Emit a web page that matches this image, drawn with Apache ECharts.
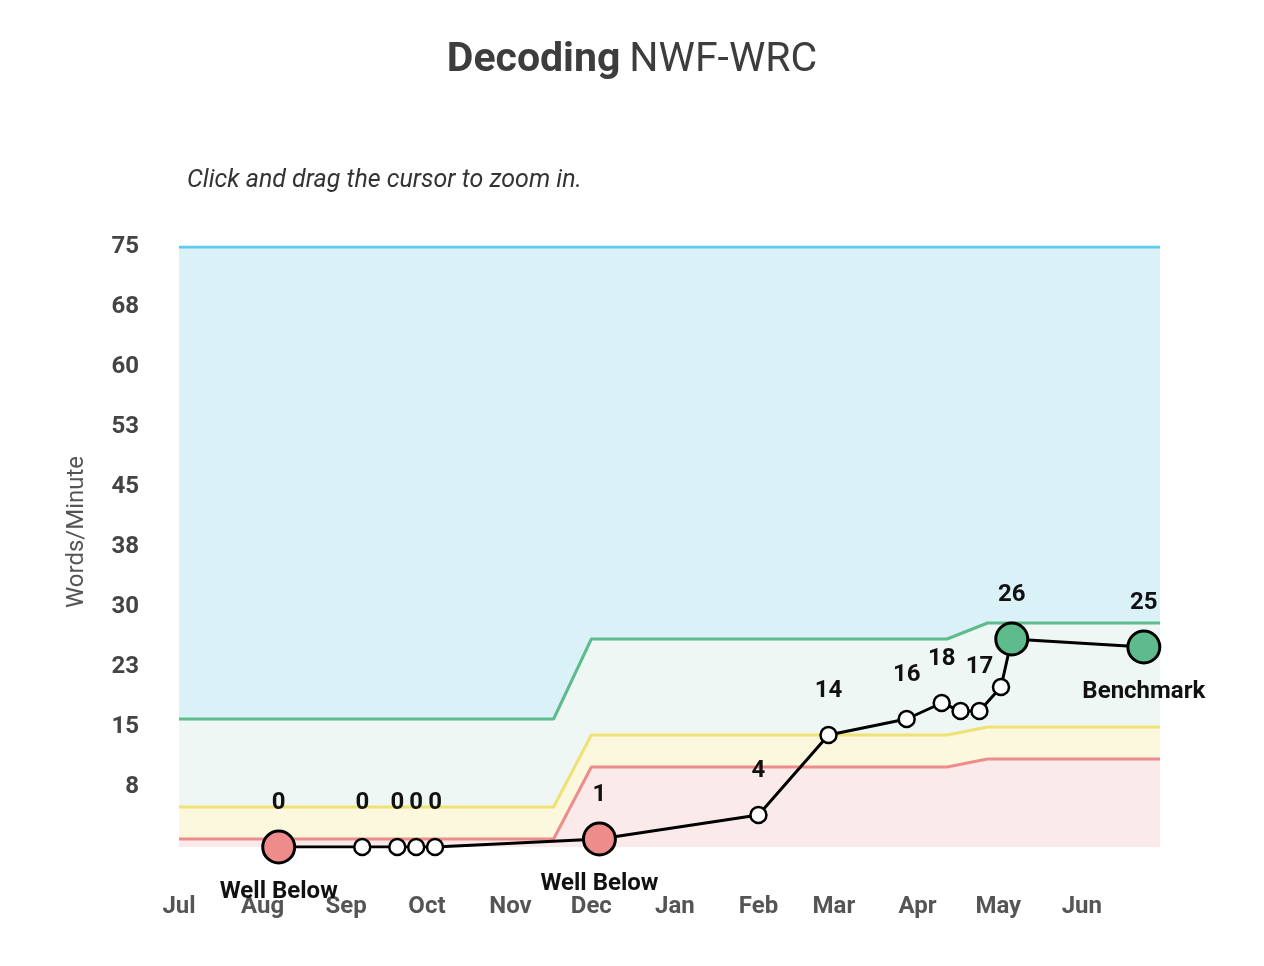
<!DOCTYPE html>
<html>
<head>
<meta charset="utf-8">
<script src="https://cdn.jsdelivr.net/npm/echarts@6/dist/echarts.min.js"></script>
<style>
  html, body { margin: 0; padding: 0; background: #fff; }
  #chart { width: 1264px; height: 966px; }
</style>
</head>
<body>
<div id="chart"></div>
<script>
// school year range
const rangeStart = '2022-07-01'
const rangeEnd = '2023-06-30'
const monthTicks = ['2022-07-01', '2022-08-01', '2022-09-01', '2022-10-01', '2022-11-01', '2022-12-01',
  '2023-01-01', '2023-02-01', '2023-03-01', '2023-04-01', '2023-05-01', '2023-06-01']
const monthNames = ['Jan', 'Feb', 'Mar', 'Apr', 'May', 'Jun', 'Jul', 'Aug', 'Sep', 'Oct', 'Nov', 'Dec']
const yTicks = [7.5, 15, 22.5, 30, 37.5, 45, 52.5, 60, 67.5, 75]

// performance band boundaries
const bandDates = ['2022-07-01', '2022-11-17', '2022-12-01', '2023-04-12', '2023-04-27', '2023-06-30']
const wellBelowTop = [1, 1, 10, 10, 11, 11]
const belowTop = [5, 5, 14, 14, 15, 15]
const benchmarkTop = [16, 16, 26, 26, 28, 28]
const aboveTop = [75, 75, 75, 75, 75, 75]

// student scores
const scoreDates = ['2022-08-07', '2022-09-07', '2022-09-20', '2022-09-27', '2022-10-04', '2022-12-04',
  '2023-02-01', '2023-02-27', '2023-03-28', '2023-04-10', '2023-04-17', '2023-04-24', '2023-05-02',
  '2023-05-06', '2023-06-24']
const scoreValues = [0, 0, 0, 0, 0, 1, 4, 14, 16, 18, 17, 17, 20, 26, 25]
const scoreLabelShown = [1, 1, 1, 1, 1, 1, 1, 1, 1, 1, 0, 1, 0, 1, 1]

// benchmark assessments
const benchDates = ['2022-08-07', '2022-12-04', '2023-05-06', '2023-06-24']
const benchValues = [0, 1, 26, 25]
const benchStatus = ['Well Below', 'Well Below', '', 'Benchmark']

const statusColor = {
  'Well Below': '#ee8c8c',
  'Benchmark': '#5dbb8c',
  '': '#5dbb8c'
}

const toTime = d => +new Date(d + 'T00:00:00')

const band = (values, line, fill, z) => ({
  type: 'line',
  data: bandDates.map((d, i) => [toTime(d), values[i]]),
  symbol: 'none',
  silent: true,
  z: z,
  lineStyle: { color: line, width: 3 },
  areaStyle: { color: fill, opacity: 1 }
})

const chart = echarts.init(document.getElementById('chart'))

const option = {
  animation: false,
  textStyle: { fontFamily: 'Roboto' },
  title: [
    {
      text: '{b|Decoding}  {r|NWF-WRC}',
      left: 'center',
      top: 35,
      textStyle: {
        rich: {
          b: { fontSize: 41, fontWeight: 'bold', color: '#3d3d3d', fontFamily: 'Roboto' },
          r: { fontSize: 41, fontWeight: 'normal', color: '#3d3d3d', fontFamily: 'Roboto' }
        }
      }
    },
    {
      text: 'Click and drag the cursor to zoom in.',
      left: 182,
      top: 163,
      textStyle: { fontSize: 25, fontStyle: 'italic', fontWeight: 'normal', color: '#333', fontFamily: 'Roboto' }
    }
  ],
  graphic: [{
    type: 'text',
    x: 77,
    y: 532,
    rotation: Math.PI / 2,
    style: {
      text: 'Words/Minute',
      fontSize: 24,
      fontFamily: 'Roboto',
      fill: '#555',
      align: 'center',
      verticalAlign: 'middle'
    }
  }],
  grid: { left: 179, right: 104, top: 247, bottom: 119 },
  xAxis: {
    type: 'value',
    min: toTime(rangeStart),
    max: toTime(rangeEnd),
    axisLine: { show: false },
    axisTick: { show: false },
    splitLine: { show: false },
    axisLabel: {
      customValues: monthTicks.map(toTime),
      margin: 48,
      fontSize: 24,
      fontWeight: 'bold',
      color: '#555',
      formatter: v => monthNames[new Date(v).getMonth()]
    }
  },
  yAxis: {
    type: 'value',
    min: 0,
    max: 75,
    axisLine: { show: false },
    axisTick: { show: false },
    splitLine: { show: false },
    axisLabel: {
      customValues: yTicks,
      margin: 40,
      fontSize: 24,
      fontWeight: 'bold',
      color: '#444',
      formatter: v => String(Math.round(v))
    }
  },
  series: [
    band(aboveTop, '#5ccbee', '#daf1f8', 1),
    band(benchmarkTop, '#5dbb8c', '#eef7f3', 2),
    band(belowTop, '#efe173', '#fbf8dd', 3),
    band(wellBelowTop, '#ee8c8c', '#fbeaea', 4),
    {
      type: 'line',
      z: 10,
      data: scoreDates.map((d, i) => ({
        value: [toTime(d), scoreValues[i]],
        label: { show: !!scoreLabelShown[i] }
      })),
      symbol: 'circle',
      symbolSize: 16,
      showAllSymbol: true,
      lineStyle: { color: '#000', width: 3 },
      itemStyle: { color: '#fff', borderColor: '#000', borderWidth: 2.5 },
      label: {
        position: 'inside',
        offset: [0, -44],
        fontSize: 24,
        fontWeight: 'bold',
        color: '#111',
        formatter: p => p.value[1]
      }
    },
    {
      type: 'scatter',
      z: 12,
      data: benchDates.map((d, i) => ({
        value: [toTime(d), benchValues[i]],
        itemStyle: { color: statusColor[benchStatus[i]] },
        label: { show: benchStatus[i] !== '', formatter: benchStatus[i] }
      })),
      symbolSize: 32,
      itemStyle: { borderColor: '#000', borderWidth: 3, opacity: 1 },
      label: {
        position: 'inside',
        offset: [0, 45],
        fontSize: 24,
        fontWeight: 'bold',
        color: '#111'
      }
    }
  ]
}

chart.setOption(option)
</script>
</body>
</html>
